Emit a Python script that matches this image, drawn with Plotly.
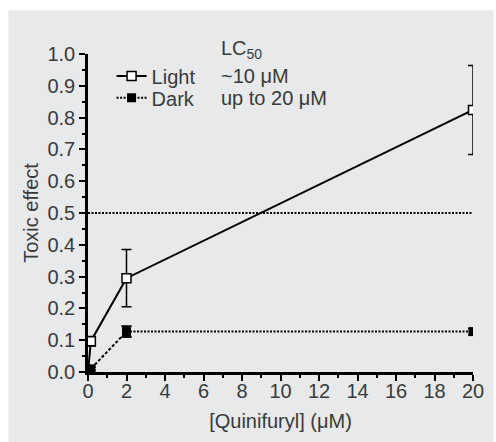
import plotly.graph_objects as go

# ---- data ----
light_x = [0, 0.15, 2, 20]
light_y = [0, 0.097, 0.295, 0.824]
light_err = [0, 0.015, 0.09, 0.14]

dark_x = [0, 0.15, 2, 20]
dark_y = [0, 0.01, 0.127, 0.127]
dark_err = [0, 0.005, 0.017, 0.01]

lc50_level = 0.5
lc50_x = [0, 20]

x_ticks = [0, 2, 4, 6, 8, 10, 12, 14, 16, 18, 20]
y_ticks = [0.0, 0.1, 0.2, 0.3, 0.4, 0.5, 0.6, 0.7, 0.8, 0.9, 1.0]

legend_labels = ["Light", "Dark"]
lc50_texts = ["~10 μM", "up to 20 μM"]

BG = "#e8e9ea"
TXT = "#3a3a3a"
FONT = "Liberation Sans"
FS = 20

fig = go.Figure()

# LC50 reference line
fig.add_trace(go.Scatter(
    x=lc50_x, y=[lc50_level] * len(lc50_x), mode="lines",
    line=dict(color="black", width=2, dash="2px,1.5px"),
    showlegend=False, hoverinfo="skip"))

# Light
fig.add_trace(go.Scatter(
    x=light_x, y=light_y, mode="lines+markers", name=legend_labels[0],
    line=dict(color="black", width=2),
    marker=dict(symbol="square", size=9, color="white",
                line=dict(color="black", width=1.5)),
    error_y=dict(type="data", array=light_err, color="black",
                 thickness=1.5, width=5),
    legend="legend"))

# Dark: dashed rising part (no legend), dotted plateau
fig.add_trace(go.Scatter(
    x=dark_x[:3], y=dark_y[:3], mode="lines+markers", name=legend_labels[1],
    line=dict(color="black", width=2, dash="3px,2px"),
    marker=dict(symbol="square", size=9, color="black"),
    error_y=dict(type="data", array=dark_err[:3], color="black",
                 thickness=1.5, width=5),
    showlegend=False))
fig.add_trace(go.Scatter(
    x=dark_x[2:], y=dark_y[2:], mode="lines+markers", name=legend_labels[1],
    line=dict(color="black", width=2, dash="2px,1.5px"),
    marker=dict(symbol="square", size=9, color="black"),
    error_y=dict(type="data", array=dark_err[2:], color="black",
                 thickness=1.5, width=5),
    legend="legend2"))

W, H = 496, 442
ml, mr, mt, mb = 88, 16, 54, 69
pw, ph = W - ml - mr, H - mt - mb

def px_x(p):
    return (p - ml) / pw

def px_y(p):
    return (H - mb - p) / ph

# grey panel (white strip on top/left)
fig.add_shape(type="rect", xref="paper", yref="paper",
              x0=px_x(7), x1=px_x(W + 5), y0=px_y(H + 5), y1=px_y(10),
              fillcolor=BG, line=dict(width=0), layer="below")

annots = [dict(text="LC<sub>50</sub>", x=px_x(221), y=px_y(49))]
for t, yy in zip(lc50_texts, [76, 98]):
    annots.append(dict(text=t, x=px_x(221), y=px_y(yy)))
for a in annots:
    fig.add_annotation(xref="paper", yref="paper", xanchor="left", yanchor="middle",
                       showarrow=False, font=dict(family=FONT, size=FS, color=TXT), **a)

axis_common = dict(
    showline=True, linecolor="black", linewidth=2.5,
    ticks="outside", ticklen=6, tickwidth=2, tickcolor="black",
    showgrid=False, zeroline=False,
    tickfont=dict(family=FONT, size=FS, color=TXT),
)

leg_common = dict(xanchor="left", yanchor="middle", bgcolor="rgba(0,0,0,0)",
                  borderwidth=0, itemwidth=30,
                  font=dict(family=FONT, size=FS, color=TXT))

fig.update_layout(
    width=W, height=H,
    margin=dict(l=ml, r=mr, t=mt, b=mb),
    paper_bgcolor="white", plot_bgcolor=BG,
    font=dict(family=FONT, size=FS, color=TXT),
    xaxis=dict(range=[0, 20], tickvals=x_ticks, ticklabelstandoff=-7,
               minor=dict(dtick=1, ticklen=3, tickwidth=2, tickcolor="black", ticks="outside"),
               title=dict(text="[Quinifuryl] (μM)", standoff=14,
                          font=dict(family=FONT, size=FS, color=TXT)),
               **axis_common),
    yaxis=dict(range=[0, 1], tickvals=y_ticks, tickformat=".1f",
               minor=dict(dtick=0.05, ticklen=3, tickwidth=2, tickcolor="black", ticks="outside"),
               title=dict(text="Toxic effect", standoff=4,
                          font=dict(family=FONT, size=FS, color=TXT)),
               **axis_common),
    legend=dict(x=px_x(112), y=px_y(76), **leg_common),
    legend2=dict(x=px_x(112), y=px_y(98), **leg_common),
    showlegend=True,
)

fig.write_html("out.html", config={"displayModeBar": False},
               post_script="document.body.style.margin='0';")
